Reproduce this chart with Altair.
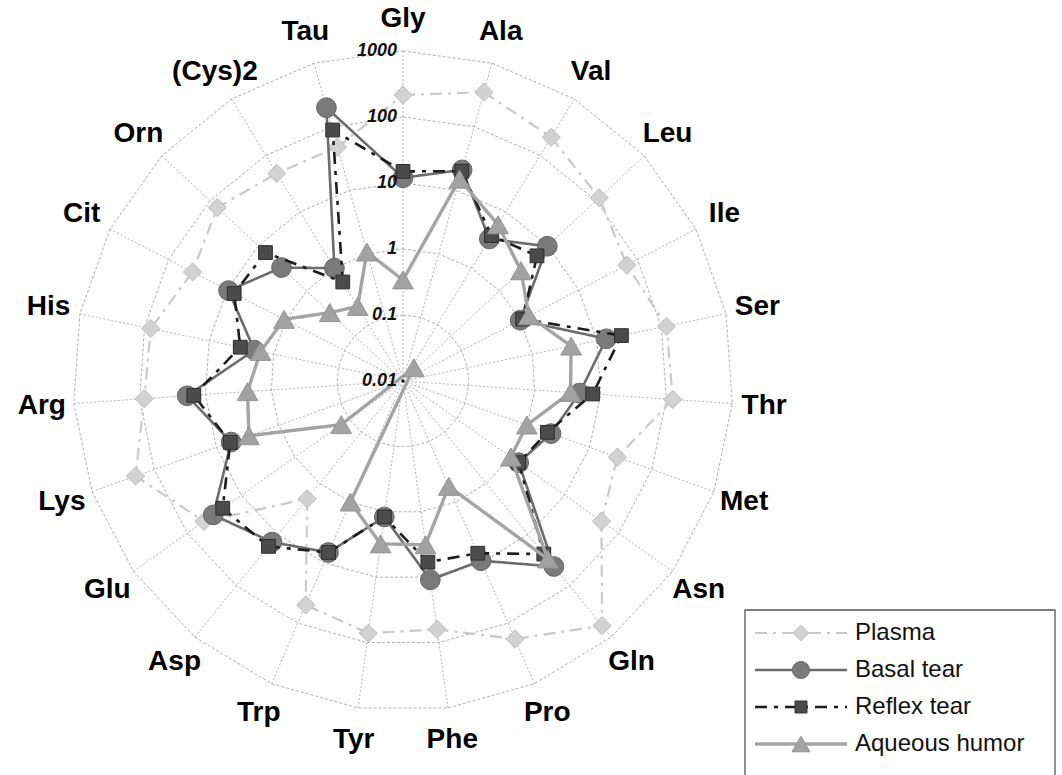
import altair as alt
import pandas as pd

# Amino acid concentrations (log scale), one spoke per amino acid, clockwise from the top
categories = ["Gly", "Ala", "Val", "Leu", "Ile", "Ser", "Thr", "Met", "Asn", "Gln",
              "Pro", "Phe", "Tyr", "Trp", "Asp", "Glu", "Lys", "Arg", "His", "Cit",
              "Orn", "(Cys)2", "Tau"]
ring_labels = ["0.01", "0.1", "1", "10", "100", "1000"]
series_names = ["Plasma", "Basal tear", "Reflex tear", "Aqueous humor"]

plasma = [215, 350, 210, 117, 66, 120, 125, 28, 48, 600, 183, 63, 72, 50, 2.0,
          49, 200, 85, 80, 39, 71, 48, 48]
basal = [12, 21, 3.3, 9.8, 1.0, 14, 4.8, 2.4, 1.4, 42, 9.3, 11, 1.2, 6.8, 14,
         33, 5.8, 19, 2.0, 9.5, 3.3, 1.0, 200]
reflex = [15, 20, 3.8, 6.0, 1.1, 24, 7.6, 2.1, 1.4, 24, 7.0, 5.9, 1.2, 6.8, 17,
          22, 6.0, 15, 3.3, 7.6, 7.1, 0.57, 89]
aqueous = [0.34, 15, 5.9, 2.8, 1.4, 4.0, 3.5, 0.98, 1.0, 30, 0.55, 3.2, 3.1, 1.0, 0.0055,
           0.14, 3.0, 2.3, 1.6, 1.07, 0.33, 0.21, 1.07]

# ---- geometry of the radar (pixel units) ----
W, H = 1062, 775
N = len(categories)
CX, CY = 403, 381          # centre of the radar
DECADE = 66                # radius of one decade of the log axis
LABEL_R = 362              # radius of the category labels
FONT = "Liberation Sans"

STYLE = {
    "Plasma":        dict(line="#c9c9c9", width=2.2, dash=[12, 6, 3, 6], shape="diamond",
                          fill="#d2d2d2", stroke="#bdbdbd", size=330),
    "Basal tear":    dict(line="#6c6c6c", width=2.6, dash=[1, 0], shape="circle",
                          fill="#7a7a7a", stroke="#666666", size=390),
    "Reflex tear":   dict(line="#1c1c1c", width=2.6, dash=[12, 7, 4, 7], shape="square",
                          fill="#4b4b4b", stroke="#2e2e2e", size=190),
    "Aqueous humor": dict(line="#a4a4a4", width=3.4, dash=[1, 0], shape="triangle-up",
                          fill="#a2a2a2", stroke="#949494", size=430),
}

rows = []
for name, vals in zip(series_names, [plasma, basal, reflex, aqueous]):
    for i, v in enumerate(vals):
        rows.append({"series": name, "idx": i, "category": categories[i], "value": v})
points_df = pd.DataFrame(rows)
# repeat the first spoke at the end so each polygon closes
closing = points_df[points_df["idx"] == 0].copy()
closing["idx"] = N
lines_df = pd.concat([points_df, closing], ignore_index=True)

ring_df = pd.DataFrame([{"decade": d, "idx": i} for d in range(1, 6) for i in range(N + 1)])
spoke_df = pd.DataFrame({"idx": list(range(N)), "category": categories})
ringlab_df = pd.DataFrame({"label": ring_labels, "decade": list(range(len(ring_labels)))})
legend_df = pd.DataFrame({"series": series_names, "k": list(range(len(series_names)))})
box_df = pd.DataFrame({"box": [0]})

xs = alt.Scale(domain=[0, W], nice=False, zero=False)
ys = alt.Scale(domain=[0, H], nice=False, zero=False, reverse=True)
X = lambda f: alt.X(f, type="quantitative", scale=xs, axis=None)
Y = lambda f: alt.Y(f, type="quantitative", scale=ys, axis=None)

ANG = f"datum.idx * 2 * PI / {N}"
RAD = f"{DECADE} * (log(datum.value) / LN10 + 2)"


def polar(chart, rad):
    return chart.transform_calculate(
        px=f"{CX} + ({rad}) * sin({ANG})",
        py=f"{CY} - ({rad}) * cos({ANG})",
    )


layers = []

# ring gridlines (polygons at each decade)
rings = polar(alt.Chart(ring_df), f"{DECADE} * datum.decade").mark_line(
    color="#9a9a9a", strokeWidth=0.8, strokeDash=[3, 2]
).encode(x=X("px"), y=Y("py"), detail="decade:N", order="idx:Q")
layers.append(rings)

# spokes
spokes = alt.Chart(spoke_df).transform_calculate(
    px=f"{CX}", py=f"{CY}",
    px2=f"{CX} + {5 * DECADE} * sin({ANG})",
    py2=f"{CY} - {5 * DECADE} * cos({ANG})",
).mark_rule(color="#a0a0a0", strokeWidth=0.8, strokeDash=[2, 2]).encode(
    x=X("px"), y=Y("py"), x2="px2:Q", y2="py2:Q"
)
layers.append(spokes)

# series: line then markers, drawn bottom to top
for name in series_names:
    s = STYLE[name]
    line = polar(alt.Chart(lines_df).transform_filter(alt.datum.series == name), RAD).mark_line(
        color=s["line"], strokeWidth=s["width"], strokeDash=s["dash"]
    ).encode(x=X("px"), y=Y("py"), order="idx:Q")
    pts = polar(alt.Chart(points_df).transform_filter(alt.datum.series == name), RAD).mark_point(
        shape=s["shape"], filled=True, fill=s["fill"], stroke=s["stroke"], strokeWidth=1,
        size=s["size"], opacity=1
    ).encode(x=X("px"), y=Y("py"), tooltip=["category:N", "series:N", "value:Q"])
    layers += [line, pts]

# centre dot
centre = alt.Chart(box_df).mark_point(filled=True, color="#111", size=10, opacity=1).encode(
    x=alt.value(CX), y=alt.value(CY)
)
layers.append(centre)

# decade labels along the top spoke
ring_text = alt.Chart(ringlab_df).transform_calculate(
    px=f"{CX - 6}", py=f"{CY} - {DECADE} * datum.decade"
).mark_text(font=FONT, fontSize=18, fontStyle="italic", fontWeight="bold",
            align="right", baseline="middle", color="#111").encode(
    x=X("px"), y=Y("py"), text="label:N"
)
layers.append(ring_text)

# category labels
cat_text = alt.Chart(spoke_df).transform_calculate(
    px=f"{CX} + {LABEL_R} * sin({ANG})",
    py=f"{CY} - {LABEL_R} * cos({ANG})",
).mark_text(font=FONT, fontSize=28, fontWeight="bold", align="center",
            baseline="middle", color="#000").encode(
    x=X("px"), y=Y("py"), text="category:N"
)
layers.append(cat_text)

# legend box
box = alt.Chart(box_df).mark_rect(fill="white", stroke="#555555", strokeWidth=1.3).encode(
    x=alt.value(745), x2=alt.value(1055), y=alt.value(610), y2=alt.value(800)
)
layers.append(box)

for name in series_names:
    s = STYLE[name]
    leg = alt.Chart(legend_df).transform_filter(alt.datum.series == name).transform_calculate(
        ly="633 + 37 * datum.k"
    )
    layers.append(leg.mark_rule(color=s["line"], strokeWidth=s["width"], strokeDash=s["dash"]).encode(
        x=alt.value(755), x2=alt.value(847), y=Y("ly")
    ))
    layers.append(leg.mark_point(shape=s["shape"], filled=True, fill=s["fill"], stroke=s["stroke"],
                                 strokeWidth=1, size=s["size"] * 0.75, opacity=1).encode(
        x=alt.value(801), y=Y("ly")
    ))
    layers.append(leg.mark_text(font=FONT, fontSize=24, align="left", baseline="middle",
                                color="#111").encode(
        x=alt.value(855), y=Y("ly"), text="series:N"
    ))

chart = alt.layer(*layers).properties(
    width=W, height=H, padding=0, autosize=alt.AutoSizeParams(type="none"),
    background="white"
).configure_view(stroke=None)

chart.save("out.html", embed_options={"renderer": "svg", "actions": False})
